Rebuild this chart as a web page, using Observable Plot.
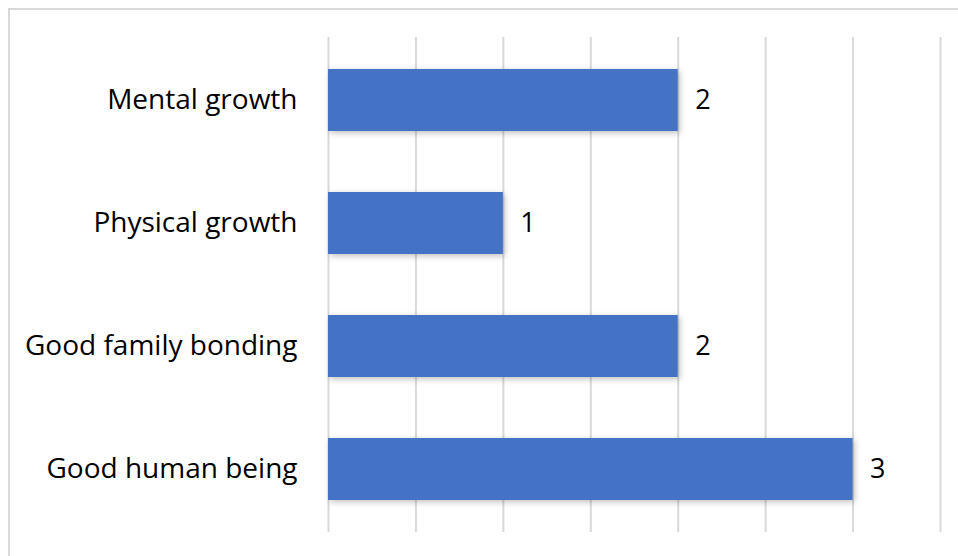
<!DOCTYPE html>
<html>
<head>
<meta charset="utf-8">
<script src="https://cdn.jsdelivr.net/npm/d3@7"></script>
<script src="https://cdn.jsdelivr.net/npm/@observablehq/plot@0.6"></script>
<style>
  html, body { margin: 0; padding: 0; background: #fff; overflow: hidden; }
  #frame { position: absolute; left: 8px; top: 8px; width: 1000px; height: 600px;
           border-top: 2px solid #d9d9d9; border-left: 2px solid #d9d9d9; box-sizing: border-box; }
  #chart { position: absolute; left: 0; top: 0; }
  g[aria-label="bar"] { filter: drop-shadow(2px 2px 3px rgba(0,0,0,0.25)); }
</style>
</head>
<body>
<div id="frame"></div>
<div id="chart"></div>
<script>
const categories = ["Mental growth", "Physical growth", "Good family bonding", "Good human being"];
const values = [2, 1, 2, 3];
const gridTicks = [0, 0.5, 1, 1.5, 2, 2.5, 3, 3.5];

const data = categories.map((c, i) => ({category: c, value: values[i]}));

const chart = Plot.plot({
  width: 958,
  height: 556,
  marginLeft: 328,
  marginRight: 18,
  marginTop: 37,
  marginBottom: 24,
  style: {fontFamily: "'Open Sans', sans-serif", fontSize: "28px", color: "#000", background: "transparent"},
  x: {domain: [0, 3.5], axis: null},
  y: {domain: categories, paddingInner: 0.5, paddingOuter: 0.25, label: null, tickSize: 0, tickPadding: 31},
  marks: [
    Plot.ruleX(gridTicks, {stroke: "#d9d9d9", strokeWidth: 2}),
    Plot.barX(data, {x: "value", y: "category", fill: "#4472c4"}),
    Plot.text(data, {x: "value", y: "category", text: d => String(d.value), dx: 17, textAnchor: "start", fill: "#000", fontSize: 27}),
    Plot.axisY({tickSize: 0, tickPadding: 31, fontSize: 28, label: null})
  ]
});
document.getElementById("chart").appendChild(chart);
</script>
</body>
</html>
